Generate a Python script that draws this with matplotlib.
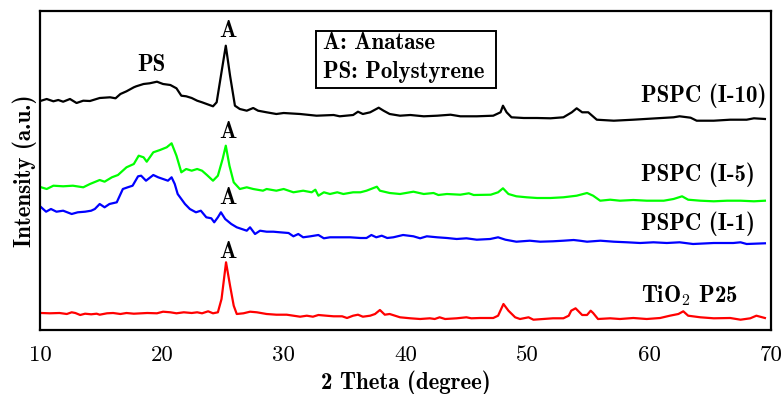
import matplotlib
matplotlib.use("Agg")
import matplotlib.pyplot as plt
from matplotlib.patches import Rectangle

plt.rcParams['mathtext.fontset'] = 'cm'
plt.rcParams['axes.formatter.use_mathtext'] = True

# ---- data (intensity in arbitrary units, offsets included) ----
black_x = [10.1, 10.55, 11.1, 11.5, 11.9, 12.46, 13.0, 13.55, 14.1, 14.9, 15.75, 16.2, 16.6, 17.1, 17.7, 17.9,
           18.5, 19.0, 19.6, 20.1, 20.7, 21.2, 21.6, 22.0, 22.45, 22.9, 23.3, 24.2, 24.5, 24.9, 25.25, 25.6,
           26.0, 26.4, 26.97, 27.5, 27.9, 28.6, 29.4, 30.0, 31.35, 32.7, 34.1, 34.6, 35.7, 36.1, 36.5, 37.1,
           37.8, 38.2, 38.7, 39.55, 40.4, 41.5, 42.6, 43.7, 44.5, 45.85, 47.2, 47.8, 48.0, 48.3, 48.7, 49.7,
           50.8, 51.9, 52.96, 53.65, 54.05, 54.5, 55.0, 55.7, 57.1, 58.7, 60.6, 62.0, 62.5, 63.4, 63.9, 65.3,
           66.65, 68.0, 68.6, 69.5]
black_y = [229.3, 231, 228.7, 230, 228.3, 231, 227, 229.3, 229, 232, 232.7, 231.7, 236, 238.7, 242.7, 243.7,
           246, 246.7, 248.3, 246, 245, 241.7, 234.3, 233.7, 232, 229.3, 227.7, 223.7, 227.7, 258, 284.3, 254.3,
           224.3, 221, 219.3, 222, 219.3, 217.7, 216, 217, 216, 214.3, 215, 213.7, 215, 218.3, 216, 217.7,
           222.3, 219.3, 216, 214.3, 215, 213.7, 214.3, 215.3, 213.7, 213.7, 214.3, 217.7, 224.3, 217.7, 212.7, 212,
           212, 211.7, 212.7, 217.7, 221.7, 217.7, 217.7, 210.3, 209.3, 210.3, 211.7, 212.7, 213.7, 212.3, 209.3, 209.3,
           210.3, 210.3, 211.7, 211]

green_x = [10.1, 10.55, 11.1, 11.9, 12.7, 13.55, 14.1, 14.9, 15.3, 15.9, 16.4, 17.1, 17.7, 18.1, 18.5, 18.76,
           19.3, 19.85, 20.4, 20.8, 21.2, 21.6, 22.0, 22.45, 22.9, 23.3, 23.7, 24.2, 24.6, 24.99, 25.25, 25.55,
           25.9, 26.4, 26.97, 27.5, 28.3, 28.6, 29.4, 30.0, 30.8, 31.6, 32.3, 32.6, 32.85, 33.3, 33.8, 34.4,
           34.9, 35.7, 36.3, 36.8, 37.65, 37.9, 38.7, 39.55, 40.65, 41.5, 42.3, 42.7, 43.4, 44.5, 45.2, 45.6,
           47.0, 47.6, 48.0, 48.45, 49.1, 49.95, 50.8, 51.9, 52.96, 54.05, 54.9, 55.4, 55.98, 56.8, 57.6, 58.7,
           59.8, 61.2, 62.0, 62.7, 63.2, 64.2, 65.3, 66.4, 67.5, 68.6, 69.5]
green_y = [142.7, 141, 144.3, 143.7, 144.3, 142.7, 146, 150, 148.3, 152.7, 155, 162.7, 166, 174.3, 172.7, 168.3,
           177.7, 180, 182.7, 186.7, 174.3, 157.7, 161, 159.3, 161, 159.3, 155, 149.3, 154.3, 171, 184.3, 164.3,
           147.7, 141, 142.7, 141, 139.3, 141, 139.3, 141, 137.7, 139.3, 137.7, 140.3, 134.3, 137.7, 136, 137.7,
           136, 137.7, 137.7, 139.3, 143.3, 139.3, 137, 136, 138.3, 136, 137, 135, 136, 135.3, 136.7, 135,
           135.3, 137.7, 141.7, 136, 133.7, 132.7, 132, 132, 132.7, 134.3, 137, 134.3, 129.3, 130.3, 129.3, 130,
           129.3, 129.3, 131, 133.7, 130.3, 129.3, 128.7, 129.3, 129.3, 128.7, 129.3]

blue_x = [10.1, 10.5, 10.9, 11.35, 11.9, 12.6, 13.1, 13.7, 14.2, 14.5, 14.9, 15.3, 15.7, 16.3, 16.8, 17.2,
          17.6, 18.05, 18.3, 18.7, 19.3, 19.7, 20.1, 20.5, 20.8, 21.06, 21.3, 21.9, 22.3, 22.8, 23.2, 23.65,
          24.06, 24.3, 24.6, 24.85, 25.2, 25.7, 26.15, 26.56, 26.97, 27.24, 27.65, 28.06, 28.6, 29.15, 29.7, 30.4,
          30.8, 31.2, 31.6, 32.2, 32.85, 33.3, 33.8, 34.6, 35.45, 36.3, 36.8, 37.2, 37.6, 38.05, 38.5, 39.0,
          39.8, 40.65, 41.2, 41.75, 42.6, 43.4, 44.2, 45.0, 45.85, 46.95, 47.6, 48.2, 49.1, 50.2, 51.05, 52.1,
          52.96, 53.8, 54.3, 54.9, 56.0, 57.1, 58.2, 59.26, 60.35, 61.45, 62.5, 63.6, 65.3, 66.9, 67.5, 68.0,
          69.5]
blue_y = [122.7, 118.3, 121, 118.3, 119.3, 116, 117.7, 118.3, 119.3, 121, 126, 122.7, 126, 127.7, 141, 142.7,
          144.3, 153.7, 154.3, 149.3, 155, 152.7, 151, 149.3, 152.7, 146, 136, 126, 121, 117.7, 119.3, 112.7,
          111.7, 107.7, 112.7, 117.7, 111, 106, 102.7, 101, 99.3, 102.7, 96, 99.3, 98.3, 98.3, 97.7, 97,
          93.7, 96, 92.7, 93.7, 95, 91.7, 92.7, 92.7, 92.7, 92, 92, 95, 92.7, 94.3, 92, 92.7,
          95, 93.7, 91.7, 93.7, 92.7, 92, 91, 91.7, 90.3, 91, 92.7, 90.3, 88.3, 89.3, 88.3, 88.7,
          89.3, 90, 89.3, 88.3, 89.3, 88.3, 87.7, 87, 87.7, 87, 87.7, 86, 87, 87, 87.7, 86,
          86.7]

red_x = [10.1, 10.8, 11.6, 12.2, 12.6, 12.9, 13.3, 13.7, 14.2, 14.65, 14.9, 15.5, 16.0, 16.6, 17.1, 17.7,
         18.8, 19.6, 20.1, 20.7, 21.2, 21.8, 22.45, 22.9, 23.3, 23.8, 24.2, 24.6, 24.9, 25.27, 25.6, 25.9,
         26.15, 26.7, 27.24, 27.8, 28.6, 29.4, 30.25, 30.8, 31.35, 31.9, 32.4, 32.85, 33.5, 34.1, 34.8, 35.2,
         35.7, 36.1, 36.5, 37.1, 37.5, 37.9, 38.3, 38.7, 39.55, 40.4, 41.2, 42.0, 42.4, 42.8, 43.25, 44.2,
         45.0, 45.4, 46.1, 47.2, 47.6, 48.04, 48.45, 49.0, 49.4, 50.1, 50.5, 51.3, 52.1, 52.96, 53.4, 53.6,
         53.96, 54.5, 54.9, 55.2, 55.4, 55.8, 56.8, 57.6, 58.7, 59.8, 60.9, 61.7, 62.4, 62.8, 63.2, 64.2,
         65.3, 66.65, 67.5, 68.3, 68.8, 69.5]
red_y = [17, 16.7, 17, 16, 17.7, 17, 15, 16.3, 15.7, 16.3, 15.3, 16.7, 17, 16, 17, 16.3,
         17, 16.7, 18.3, 17.7, 16.7, 17.7, 17, 17.7, 16.7, 18.7, 16.7, 17.7, 31, 67.7, 44.3, 24.3,
         16, 16.7, 18.3, 17.7, 16, 15.3, 15.3, 14.3, 13.3, 14.3, 13.3, 15, 14.3, 13.7, 13.7, 12,
         14.3, 15.3, 13.3, 14.3, 16, 20, 15.3, 16, 12.7, 11.7, 11, 11.7, 11, 12.7, 11, 11.7,
         12.7, 11.7, 12, 12, 14.3, 26, 19.3, 12.7, 11, 12.7, 10.3, 11, 11.7, 11.7, 14.3, 19.3,
         21.7, 15, 15, 19.3, 17, 11, 11.7, 11, 12, 11, 12, 14.3, 16, 18.7, 14.3, 12.7,
         11.7, 12, 10.3, 11.7, 14.3, 12]

series = [
    (black_x, black_y, 'black'),
    (green_x, green_y, '#00ff00'),
    (blue_x, blue_y, '#0000ff'),
    (red_x, red_y, '#ff0000'),
]

sample_labels = ['PSPC (I-10)', 'PSPC (I-5)', 'PSPC (I-1)', r'TiO$_\mathbf{2}$ P25']
sample_label_y = [234, 155, 106, 34]
peak_labels = ['A', 'PS', 'A', 'A', 'A']
peak_label_x = [25.4, 19.15, 25.4, 25.4, 25.4]
peak_label_y = [299, 265, 198, 132, 78]
legend_lines = ['A: Anatase', 'PS: Polystyrene']
xticks = [10, 20, 30, 40, 50, 60, 70]

BOLD = 'cmb10'
REG = 'cmr10'
FS = 16.5

fig = plt.figure(figsize=(7.82, 3.94), dpi=100)
ax = fig.add_axes([40 / 782, (394 - 330) / 394, 731 / 782, 319 / 394])

for x, y, c in series:
    ax.plot(x, y, color=c, lw=1.6, solid_joinstyle='round')

ax.set_xlim(10, 70)
ax.set_ylim(0, 319)
ax.set_xticks(xticks)
ax.set_xticklabels([str(t) for t in xticks], fontfamily=REG, fontsize=FS)
ax.set_yticks([])
ax.tick_params(axis='x', length=0, pad=11)
for s in ax.spines.values():
    s.set_linewidth(1.6)

ax.set_xlabel('2 Theta (degree)', fontfamily=BOLD, fontsize=FS, labelpad=4)
ax.set_ylabel('Intensity (a.u.)', fontfamily=BOLD, fontsize=FS, labelpad=2)

for lab, yy in zip(sample_labels, sample_label_y):
    ax.text(59.3, yy, lab, fontfamily=BOLD, fontsize=FS, va='center', ha='left')

for lab, xx, yy in zip(peak_labels, peak_label_x, peak_label_y):
    ax.text(xx, yy, lab, fontfamily=BOLD, fontsize=FS, va='center', ha='center')

# legend-like box
ax.add_patch(Rectangle((0.3776, 0.7586), 0.2462, 0.1787, transform=ax.transAxes,
                       fc='white', ec='black', lw=1.4, zorder=5))
for line, yy in zip(legend_lines, [0.8987, 0.8097]):
    ax.text(0.387, yy, line, transform=ax.transAxes, fontfamily=BOLD, fontsize=FS,
            va='center', ha='left', zorder=6)

fig.savefig('out.png', dpi=100)
